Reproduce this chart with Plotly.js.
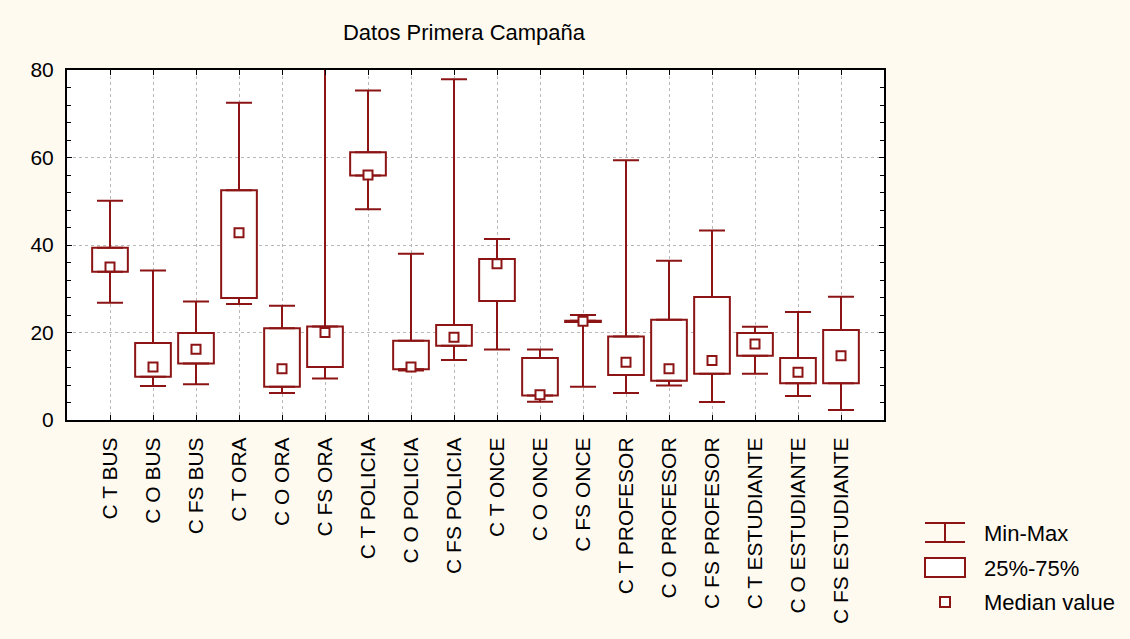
<!DOCTYPE html>
<html>
<head>
<meta charset="utf-8">
<script src="https://cdn.plot.ly/plotly-3.0.1.min.js"></script>
<style>html,body{margin:0;padding:0;background:#fffaf0;}#chart{width:1130px;height:639px;}</style>
</head>
<body>
<div id="chart"></div>
<script>
const categories = ["C T BUS","C O BUS","C FS BUS","C T ORA","C O ORA","C FS ORA","C T POLICIA","C O POLICIA","C FS POLICIA","C T ONCE","C O ONCE","C FS ONCE","C T PROFESOR","C O PROFESOR","C FS PROFESOR","C T ESTUDIANTE","C O ESTUDIANTE","C FS ESTUDIANTE"];
const minVals    = [26.8, 7.8, 8.2, 26.5, 6.2, 9.5, 48.2, 11.3, 13.7, 16.1, 4.2, 7.6, 6.2, 7.9, 4.1, 10.6, 5.5, 2.3];
const q1Vals     = [33.9, 9.9, 12.9, 27.9, 7.6, 12.1, 55.9, 11.6, 17.0, 27.2, 5.6, 22.4, 10.3, 9.0, 10.6, 14.7, 8.4, 8.4];
const medianVals = [35.0, 12.1, 16.2, 42.8, 11.7, 20.0, 56.0, 12.1, 18.9, 35.7, 5.8, 22.6, 13.2, 11.7, 13.6, 17.4, 10.9, 14.7];
const q3Vals     = [39.4, 17.6, 19.9, 52.5, 21.0, 21.4, 61.2, 18.1, 21.7, 36.8, 14.2, 22.7, 19.1, 22.9, 28.1, 19.9, 14.2, 20.6];
const maxVals    = [50.1, 34.2, 27.1, 72.5, 26.1, 86.0, 75.3, 38.0, 77.9, 41.4, 16.1, 24.0, 59.4, 36.4, 43.3, 21.3, 24.7, 28.2];
const yTickVals  = [0, 20, 40, 60, 80];
const legendLabels = ["Min-Max", "25%-75%", "Median value"];

const RED = "#8c1414";
const FONT = "Liberation Sans, Arial, sans-serif";

const boxTrace = {
  type: "bar", x: categories, base: q1Vals,
  y: q3Vals.map((v, i) => v - q1Vals[i]),
  width: 0.83,
  marker: {color: "#ffffff", line: {color: RED, width: 2}},
  hoverinfo: "skip", showlegend: false
};
const upperWhisker = {
  type: "scatter", mode: "markers", x: categories, y: q3Vals,
  marker: {size: 1, color: "rgba(0,0,0,0)"},
  error_y: {type: "data", symmetric: false,
    array: maxVals.map((v, i) => v - q3Vals[i]),
    arrayminus: q3Vals.map(() => 0),
    color: RED, thickness: 2, width: 13},
  hoverinfo: "skip", showlegend: false
};
const lowerWhisker = {
  type: "scatter", mode: "markers", x: categories, y: q1Vals,
  marker: {size: 1, color: "rgba(0,0,0,0)"},
  error_y: {type: "data", symmetric: false,
    array: q1Vals.map(() => 0),
    arrayminus: q1Vals.map((v, i) => v - minVals[i]),
    color: RED, thickness: 2, width: 13},
  hoverinfo: "skip", showlegend: false
};
const medianTrace = {
  type: "scatter", mode: "markers", x: categories, y: medianVals,
  marker: {symbol: "square", size: 9, color: "#ffffff", line: {color: RED, width: 2}},
  hoverinfo: "skip", showlegend: false
};

// plot area in pixels: left 67, right 884, top 70, bottom 420
const L = 67, R = 884, T = 70, B = 420;
const px = v => (v - L) / (R - L);
const py = v => (B - v) / (B - T);

const shapes = [
  // Min-Max symbol
  {type: "line", xref: "paper", yref: "paper", x0: px(925), x1: px(965), y0: py(523), y1: py(523), line: {color: RED, width: 2}},
  {type: "line", xref: "paper", yref: "paper", x0: px(925), x1: px(965), y0: py(542), y1: py(542), line: {color: RED, width: 2}},
  {type: "line", xref: "paper", yref: "paper", x0: px(945), x1: px(945), y0: py(523), y1: py(542), line: {color: RED, width: 2}},
  // box symbol
  {type: "rect", xref: "paper", yref: "paper", x0: px(925), x1: px(965), y0: py(558), y1: py(577), line: {color: RED, width: 2}, fillcolor: "#ffffff"},
  // median symbol
  {type: "rect", xref: "paper", yref: "paper", x0: px(940), x1: px(950), y0: py(597), y1: py(607), line: {color: RED, width: 2}, fillcolor: "#ffffff"}
];
const legendY = [533, 568, 602];
const annotations = legendLabels.map((t, i) => ({
  xref: "paper", yref: "paper", x: px(982), y: py(legendY[i]),
  xanchor: "left", yanchor: "middle", text: t, showarrow: false,
  font: {family: FONT, size: 22, color: "#000"}
}));

const layout = {
  width: 1130, height: 639,
  paper_bgcolor: "#fffaf0", plot_bgcolor: "#ffffff",
  margin: {l: L, r: 1130 - R, t: T, b: 639 - B},
  title: {text: "Datos Primera Campaña", x: px(464), xref: "paper", xanchor: "center",
          y: 1 - 32 / 639, yref: "container", yanchor: "middle",
          font: {family: FONT, size: 22, color: "#000"}},
  showlegend: false,
  barmode: "overlay",
  xaxis: {
    type: "category", range: [-1, categories.length],
    tickangle: -90, tickfont: {family: FONT, size: 21, color: "#000"},
    ticks: "inside", ticklen: 5, tickwidth: 1, tickcolor: "#000",
    showline: true, linecolor: "#000", linewidth: 2, mirror: "allticks",
    showgrid: true, gridcolor: "#b8b8b8", griddash: "dot", gridwidth: 1,
    zeroline: false, ticklabelstandoff: 7, fixedrange: true
  },
  yaxis: {
    range: [0, 80], tickvals: yTickVals,
    tickfont: {family: FONT, size: 21, color: "#000"},
    ticks: "inside", ticklen: 5, tickwidth: 1, tickcolor: "#000",
    minor: {dtick: 4, ticks: "inside", ticklen: 4, tickcolor: "#000", showgrid: false},
    showline: true, linecolor: "#000", linewidth: 2, mirror: "allticks",
    showgrid: true, gridcolor: "#b8b8b8", griddash: "dot", gridwidth: 1,
    zeroline: false, ticklabelstandoff: 7, fixedrange: true
  },
  shapes: shapes,
  annotations: annotations
};

Plotly.newPlot("chart", [boxTrace, upperWhisker, lowerWhisker, medianTrace], layout, {displayModeBar: false, staticPlot: true});
</script>
</body>
</html>
